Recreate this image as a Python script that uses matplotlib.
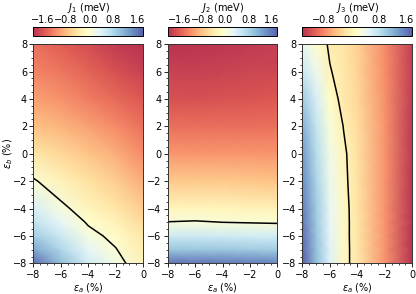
import numpy as np
import matplotlib
matplotlib.use("Agg")
import matplotlib.pyplot as plt
from matplotlib.ticker import MultipleLocator
from matplotlib.colors import ListedColormap

# strain grid (%)
ea = [-8, -6, -4, -2, 0]
ea3 = [-8, -7, -6, -5, -4, -2, 0]
eb = [-8, -7, -6, -5, -4, -2, 0, 2, 4, 6, 8]

# J1 (meV), rows follow eb, columns follow ea
J1 = [
    [1.70, 1.05, 0.50, 0.15, -0.25],
    [1.25, 0.80, 0.30, 0.02, -0.32],
    [0.90, 0.55, 0.12, -0.10, -0.40],
    [0.65, 0.32, -0.04, -0.25, -0.52],
    [0.45, 0.10, -0.20, -0.40, -0.65],
    [0.05, -0.25, -0.45, -0.65, -0.90],
    [-0.40, -0.55, -0.72, -0.90, -1.15],
    [-0.75, -0.85, -1.00, -1.15, -1.35],
    [-1.00, -1.10, -1.25, -1.40, -1.55],
    [-1.20, -1.30, -1.45, -1.60, -1.75],
    [-1.35, -1.50, -1.65, -1.80, -1.90],
]

# J2 (meV)
J2 = [
    [1.65, 1.62, 1.60, 1.55, 1.50],
    [0.95, 0.95, 0.93, 0.90, 0.88],
    [0.50, 0.50, 0.48, 0.46, 0.45],
    [0.01, 0.03, 0.00, -0.02, -0.04],
    [-0.25, -0.25, -0.26, -0.28, -0.30],
    [-0.75, -0.75, -0.75, -0.78, -0.80],
    [-1.15, -1.15, -1.15, -1.15, -1.15],
    [-1.45, -1.45, -1.45, -1.45, -1.43],
    [-1.70, -1.70, -1.68, -1.66, -1.64],
    [-1.85, -1.85, -1.83, -1.80, -1.78],
    [-2.00, -1.98, -1.95, -1.92, -1.88],
]

# J3 (meV), columns follow ea3
J3 = [
    [1.75, 1.10, 0.55, 0.10, -0.13, -0.70, -1.40],
    [1.70, 1.08, 0.52, 0.10, -0.13, -0.70, -1.39],
    [1.65, 1.05, 0.50, 0.10, -0.14, -0.70, -1.39],
    [1.60, 1.02, 0.48, 0.10, -0.14, -0.70, -1.38],
    [1.55, 1.00, 0.45, 0.10, -0.15, -0.70, -1.38],
    [1.45, 0.92, 0.40, 0.07, -0.16, -0.70, -1.37],
    [1.35, 0.85, 0.35, 0.05, -0.17, -0.70, -1.35],
    [1.20, 0.75, 0.27, -0.01, -0.20, -0.71, -1.34],
    [1.00, 0.60, 0.15, -0.10, -0.25, -0.72, -1.32],
    [0.70, 0.40, 0.02, -0.12, -0.28, -0.74, -1.30],
    [0.45, 0.20, -0.05, -0.15, -0.30, -0.75, -1.30],
]

panels = [
    (ea, J1, -1.9, 1.8, [-1.6, -0.8, 0.0, 0.8, 1.6], r"$J_1$ (meV)"),
    (ea, J2, -2.0, 1.8, [-1.6, -0.8, 0.0, 0.8, 1.6], r"$J_2$ (meV)"),
    (ea3, J3, -1.4, 1.75, [-0.8, 0.0, 0.8, 1.6], r"$J_3$ (meV)"),
]

# faded RdYlBu (like alpha=0.8 on white)
base = plt.get_cmap("RdYlBu")(np.linspace(0, 1, 256))
base[:, :3] = 0.8 * base[:, :3] + 0.2
cmap = ListedColormap(base)

plt.rcParams["font.size"] = 7
fig = plt.figure(figsize=(4.16, 2.94), dpi=100)

lefts = [0.080, 0.403, 0.727]
for i, (xs, J, vmin, vmax, cticks, title) in enumerate(panels):
    ax = fig.add_axes([lefts[i], 0.104, 0.264, 0.746])
    X, Y = np.meshgrid(xs, eb)
    Z = np.array(J)
    pc = ax.pcolormesh(X, Y, Z, shading="gouraud", cmap=cmap,
                       vmin=vmin, vmax=vmax)
    ax.contour(X, Y, Z, levels=[0], colors="k", linewidths=1.1)
    ax.set_xlim(-8, 0)
    ax.set_ylim(-8, 8)
    ax.set_xticks([-8, -6, -4, -2, 0])
    ax.set_yticks([-8, -6, -4, -2, 0, 2, 4, 6, 8])
    ax.xaxis.set_minor_locator(MultipleLocator(0.5))
    ax.yaxis.set_minor_locator(MultipleLocator(0.5))
    ax.tick_params(which="major", length=3, width=0.6, pad=1.5)
    ax.tick_params(which="minor", length=1.5, width=0.5)
    for s in ax.spines.values():
        s.set_linewidth(0.7)
        s.set_color("#333333")
    ax.set_xlabel(r"$\varepsilon_a$ (%)", labelpad=1)
    if i == 0:
        ax.set_ylabel(r"$\varepsilon_b$ (%)")
        ax.yaxis.set_label_coords(-0.17, 0.5)

    cax = fig.add_axes([lefts[i], 0.877, 0.264, 0.032])
    cb = fig.colorbar(pc, cax=cax, orientation="horizontal", ticks=cticks)
    cax.xaxis.set_ticks_position("top")
    cax.xaxis.set_label_position("top")
    cax.tick_params(length=0, pad=1.5)
    cb.outline.set_linewidth(0.7)
    cb.set_label(title, labelpad=2.5)

fig.savefig("out.png", dpi=100)
